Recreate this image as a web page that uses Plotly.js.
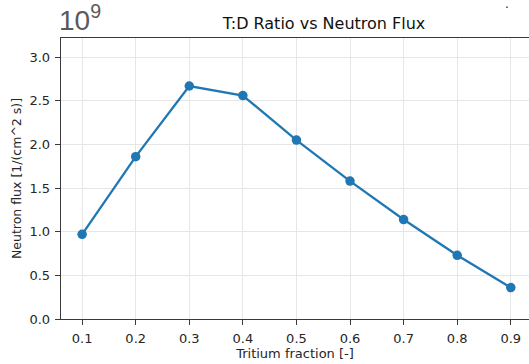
<!DOCTYPE html>
<html>
<head>
<meta charset="utf-8">
<script src="https://cdn.plot.ly/plotly-3.0.1.min.js"></script>
<style>
  html, body { margin: 0; padding: 0; background: #fff; }
  #chart { width: 529px; height: 364px; }
</style>
</head>
<body>
<div id="chart"></div>
<script>
// Tritium fraction in the T:D fuel mix
const tritiumFraction = [0.1, 0.2, 0.3, 0.4, 0.5, 0.6, 0.7, 0.8, 0.9];
// Neutron flux, in units of 1e9 1/(cm^2 s)
const neutronFlux = [0.97, 1.86, 2.67, 2.56, 2.05, 1.58, 1.14, 0.73, 0.36];
const xTickVals = [0.1, 0.2, 0.3, 0.4, 0.5, 0.6, 0.7, 0.8, 0.9];
const yTickVals = [0.0, 0.5, 1.0, 1.5, 2.0, 2.5, 3.0];

const font = 'DejaVu Sans, sans-serif';
const spine = '#3a3a3a';

const trace = {
  x: tritiumFraction,
  y: neutronFlux,
  type: 'scatter',
  mode: 'lines+markers',
  line: { color: '#1f77b4', width: 2.3 },
  marker: { color: '#1f77b4', size: 9.5 },
  hoverinfo: 'skip'
};

const axisCommon = {
  showgrid: true,
  gridcolor: '#e6e6e6',
  gridwidth: 1,
  zeroline: false,
  showline: true,
  linecolor: spine,
  linewidth: 1.3,
  ticks: 'outside',
  ticklen: 5,
  tickwidth: 1,
  tickcolor: spine,
  ticklabelstandoff: 2,
  tickfont: { family: font, size: 13, color: '#262626' }
};

const layout = {
  width: 529,
  height: 364,
  margin: { l: 61, r: 0, t: 38, b: 45 },
  paper_bgcolor: '#ffffff',
  plot_bgcolor: '#ffffff',
  showlegend: false,
  title: {
    text: 'T:D Ratio vs Neutron Flux',
    font: { family: font, size: 16, color: '#111' },
    x: 0.562, xref: 'paper', xanchor: 'center',
    y: 0.935, yanchor: 'middle'
  },
  xaxis: Object.assign({}, axisCommon, {
    range: [0.0606, 0.934],
    tickvals: xTickVals,
    ticktext: xTickVals.map(v => v.toFixed(1)),
    mirror: true,
    title: { text: 'Tritium fraction [-]', font: { family: font, size: 13, color: '#262626' }, standoff: 4 }
  }),
  yaxis: Object.assign({}, axisCommon, {
    range: [0, 3.22],
    tickvals: yTickVals,
    ticktext: yTickVals.map(v => v.toFixed(1)),
    title: { text: 'Neutron flux [1/(cm^2 s)]', font: { family: font, size: 12.5, color: '#262626' }, standoff: 5 }
  }),
  annotations: [
    {
      text: '10<sup>9</sup>',
      xref: 'paper', yref: 'paper',
      x: -0.008, y: 1.0,
      xanchor: 'left', yanchor: 'bottom',
      showarrow: false,
      font: { family: 'Liberation Sans, Arial, sans-serif', size: 28, color: '#5a5a5a' }
    },
    {
      text: '·',
      xref: 'paper', yref: 'paper',
      x: 0.954, y: 1.108,
      xanchor: 'center', yanchor: 'middle',
      showarrow: false,
      font: { family: font, size: 12, color: '#222' }
    }
  ]
};

Plotly.newPlot('chart', [trace], layout, { displayModeBar: false, staticPlot: true });
</script>
</body>
</html>
